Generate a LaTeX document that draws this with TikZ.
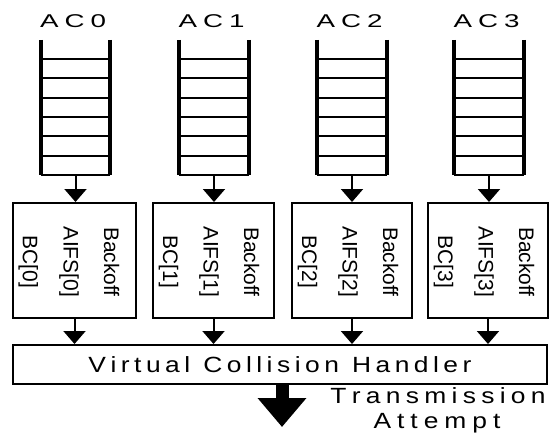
\documentclass[tikz,border=0pt]{standalone}
\usepackage{fontspec}
\setmainfont{Liberation Sans}
\newfontfamily\lblfont[FakeStretch=1.5]{Liberation Sans}
\newfontfamily\widefont[FakeStretch=1.2]{Liberation Sans}
\usetikzlibrary{arrows.meta}
\makeatletter
\newcommand\spaced[2]{%
  \def\sp@k{#1}\let\sp@first\relax
  \@tfor\sp@c:=#2\do{%
    \ifx\sp@first\relax\else\kern\sp@k\fi
    \sp@c\let\sp@first\@empty}}
\makeatother
\tikzset{
  queue/.style={minimum width=69pt, minimum height=135pt, inner sep=0pt, draw=none},
  rail/.style={line width=4pt},
  rung/.style={line width=2pt},
  arr/.style={line width=2pt, -{Triangle[width=22pt,length=13pt]}},
  boxst/.style={draw, line width=2pt, minimum height=115pt, inner sep=0pt},
  vtext/.style={rotate=-90, anchor=base, inner sep=0pt, font=\fontsize{21}{21}\selectfont},
  aclabel/.style={anchor=base, inner sep=0pt, font=\lblfont\fontsize{18.5}{18.5}\selectfont},
  wtext/.style={inner sep=0pt, font=\widefont\fontsize{22}{22}\selectfont},
  bigarr/.style={line width=13pt, -{Triangle[width=47pt,length=29pt]}}
}
\begin{document}
\begin{tikzpicture}[x=1pt,y=-1pt]
\useasboundingbox (0,0) rectangle (549,432);
% virtual collision handler
\node[boxst, wtext, minimum width=534pt, minimum height=39pt] (vch) at (280,364.5)
  {\spaced{4.5pt}{Virtual}\kern13pt\spaced{4.5pt}{Collision}\kern13pt\spaced{4.5pt}{Handler}};
\foreach \i/\qx/\bx/\bw in {0/75.5/74.5/123, 1/214/213.5/121, 2/352/352/120, 3/489/488/120} {
  % queue
  \node[queue] (q\i) at (\qx,107.5) {};
  \draw[rail] (q\i.north west) -- (q\i.south west);
  \draw[rail] (q\i.north east) -- (q\i.south east);
  \foreach \k in {1,...,7} {
    \draw[rung] ([yshift={-\k*135/7}]q\i.north west) -- ([yshift={-\k*135/7}]q\i.north east);
  }
  % label
  \node[aclabel] (l\i) at (\qx-2.5,27) {A\kern6pt C\kern6pt \i};
  % box
  \node[boxst, minimum width=\bw pt] (b\i) at (\bx,260.5) {};
  \node[vtext] (bk\i) at ([xshift=92pt,yshift=-1.5pt]b\i.west) {Backoff};
  \node[vtext] (af\i) at ([xshift=51.5pt,yshift=-1.5pt]b\i.west) {AIFS[\i]};
  \node[vtext] (bc\i) at ([xshift=11pt,yshift=-1.5pt]b\i.west) {BC[\i]};
  % arrows
  \draw[arr] (q\i.south) -- (q\i.south |- b\i.north);
  \draw[arr] (b\i.south) -- (b\i.south |- vch.north);
}
% transmission attempt
\coordinate (tip) at (282,427);
\draw[bigarr] (tip |- vch.south) -- (tip);
\node[wtext, anchor=base] (tr) at (438,403) {\spaced{5.3pt}{Transmission}};
\node[wtext, anchor=base] (at) at (437,428) {\spaced{6pt}{Attempt}};
\end{tikzpicture}
\end{document}
